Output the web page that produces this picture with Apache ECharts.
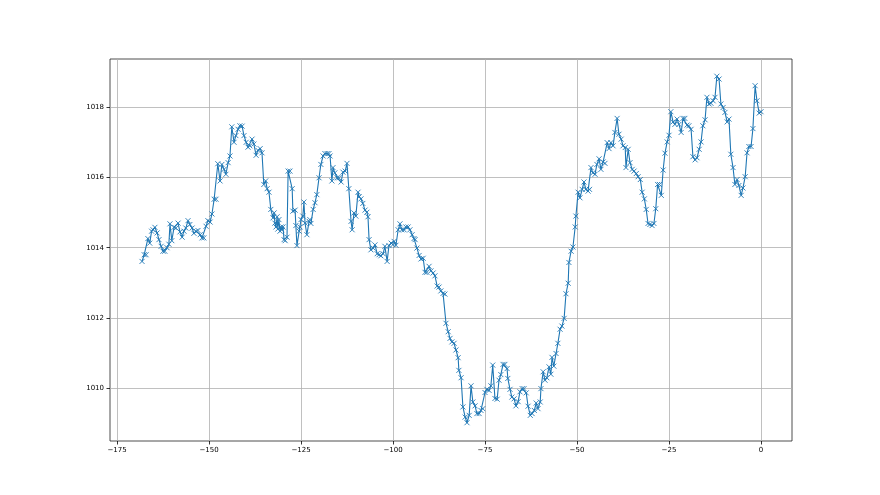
<!DOCTYPE html>
<html>
<head>
<meta charset="utf-8">
<script src="https://cdn.jsdelivr.net/npm/echarts@6/dist/echarts.min.js"></script>
<style>html,body{margin:0;padding:0;background:#fff}#c{width:880px;height:495px}</style>
</head>
<body>
<div id="c"></div>
<script>
const hours = [
-168.2,-167.6,-167.1,-166.6,-166.1,-165.6,-165.2,-164.7,-164.1,-163.6,-163.0,-162.5,-162.0,-161.4,-160.9,-160.6,-160.1,-159.5,-159.0,-158.4,
-157.9,-157.3,-156.8,-156.3,-155.7,-155.2,-154.6,-154.1,-153.5,-153.0,-152.4,-151.9,-151.4,-150.8,-150.3,-149.7,-149.2,-148.6,-148.1,-147.6,
-147.0,-146.5,-145.9,-145.4,-144.8,-144.3,-143.8,-143.2,-142.7,-142.1,-141.6,-141.0,-140.5,-139.9,-139.4,-138.9,-138.3,-137.8,-137.2,-136.7,
-136.1,-135.6,-135.1,-134.6,
-134.2,-133.7,-133.2,-132.6,-132.3,-132.1,-131.8,-131.5,-131.3,-131.0,-130.7,-130.4,-130.2,-129.9,-129.6,-129.3,-128.8,-128.5,-128.0,-127.4,
-127.2,-126.6,-126.4,-126.1,-125.5,-125.3,-125.0,-124.5,-124.2,-123.9,-123.4,-122.8,-122.6,-122.3,-121.7,-121.2,-120.7,-120.1,-119.6,-119.0,
-118.5,-117.9,-117.4,-117.1,-116.6,-116.3,-115.8,-115.2,-114.7,-114.1,-113.6,-113.0,-112.5,-112.0,-111.4,-111.1,-110.6,-110.1,-109.5,-109.2,
-108.7,-108.2,-107.6,-107.1,-106.8,-106.5,-106.0,-105.4,-104.9,-104.3,-103.8,-103.3,-102.7,-102.2,-101.6,-101.1,-100.5,
-100.0,-99.7,-99.2,-98.6,-98.1,-97.6,-97.0,-96.5,-95.9,-95.4,-94.8,-94.3,-94.0,-93.5,-92.9,-92.4,-91.8,-91.3,-90.8,-90.2,
-89.7,-89.1,-88.6,-88.0,-87.5,-87.0,-86.4,-85.9,-85.6,-85.0,-84.5,-84.0,-83.4,-82.9,-82.3,-82.1,-81.5,-81.0,-80.4,-79.9,
-79.3,-78.8,-78.3,-77.7,-77.2,-76.6,-76.1,-75.6,-75.0,-74.5,-73.9,-73.4,-72.9,-72.3,-71.7,-71.2,-70.7,-70.1,-69.6,-69.0,
-68.8,-68.2,-67.7,-67.1,-66.6,-66.0,-65.5,
-64.9,-64.4,-63.8,-63.3,-62.7,-62.2,-61.6,-61.1,-60.6,-60.0,-59.8,-59.2,-58.7,-58.2,-57.6,-57.1,-56.8,-56.3,-55.7,-55.2,
-54.6,-54.1,-53.5,-53.0,-52.4,-52.2,-51.6,-51.1,-50.5,-50.3,-49.7,-49.2,-48.6,-48.1,-47.6,-47.0,-46.6,-46.2,-45.7,-45.1,
-44.6,-44.0,-43.5,-42.9,-42.4,-41.8,-41.3,-40.8,-40.2,-39.7,-39.1,-38.6,-38.0,-37.5,-36.9,-36.7,-36.1,-35.6,-35.0,-34.5,
-33.9,-33.4,-32.8,-32.3,-31.7,-31.2,
-30.7,-30.2,-29.6,-29.1,-28.6,-28.1,-27.6,-27.1,-26.6,-26.1,-25.5,-25.0,-24.5,-23.9,-23.4,-22.8,-22.3,-21.7,-21.2,-20.7,
-20.1,-19.6,-19.0,-18.5,-17.9,-17.4,-16.8,-16.3,-15.8,-15.2,-14.7,-14.1,-13.6,-13.0,-12.5,-12.0,-11.4,-10.9,-10.3,-9.8,
-9.2,-8.7,-8.2,-7.6,-7.1,-6.5,-6.0,-5.4,-4.9,-4.3,-3.8,-3.3,-2.7,-2.2,-1.6,-1.1,-0.5,0.0
];
const pressure = [
1013.61,1013.80,1013.80,1014.26,1014.13,1014.47,1014.51,1014.58,1014.42,1014.23,1014.04,1013.90,1013.90,1014.00,1014.10,1014.68,1014.20,1014.58,1014.56,1014.70,
1014.45,1014.30,1014.47,1014.56,1014.77,1014.66,1014.56,1014.41,1014.47,1014.49,1014.37,1014.28,1014.28,1014.61,1014.77,1014.73,1014.96,1015.38,1015.38,1016.39,
1015.90,1016.37,1016.23,1016.09,1016.42,1016.61,1017.44,1017.00,1017.19,1017.37,1017.47,1017.46,1017.19,1017.00,1016.86,1016.90,1017.09,1016.95,1016.63,1016.77,
1016.82,1016.70,1015.80,1015.90,
1015.68,1015.58,1015.09,1014.85,1014.99,1014.70,1014.59,1014.88,1014.53,1014.80,1014.47,1014.59,1014.51,1014.59,1014.23,1014.20,1014.30,1016.18,1016.18,1015.68,
1015.04,1015.07,1014.63,1014.06,1014.47,1014.59,1014.80,1014.90,1015.30,1014.70,1014.37,1014.75,1014.80,1014.69,1015.09,1015.28,1015.51,1015.99,1016.37,1016.61,
1016.68,1016.68,1016.68,1016.61,1015.90,1016.28,1016.13,1015.99,1015.99,1015.87,1016.15,1016.18,1016.40,1015.68,1014.75,1014.51,1014.99,1014.90,1015.58,1015.45,
1015.39,1015.26,1015.07,1015.01,1014.88,1014.23,1013.94,1013.99,1014.08,1013.83,1013.80,1013.77,1013.83,1014.04,1013.61,1014.06,1014.13,
1014.09,1014.18,1014.07,1014.51,1014.68,1014.51,1014.51,1014.59,1014.59,1014.51,1014.37,1014.26,1014.23,1013.99,1013.78,1013.68,1013.70,1013.30,1013.30,1013.47,
1013.34,1013.28,1013.20,1012.91,1012.88,1012.77,1012.70,1012.68,1011.85,1011.61,1011.42,1011.32,1011.28,1011.09,1010.87,1010.51,1010.30,1009.47,1009.18,1009.02,
1009.23,1010.07,1009.61,1009.50,1009.28,1009.28,1009.37,1009.42,1009.88,1009.97,1009.94,1010.07,1010.66,1009.71,1009.69,1010.23,1010.39,1010.68,1010.68,1010.56,
1010.28,1009.97,1009.75,1009.70,1009.50,1009.62,1009.90,
1009.99,1009.99,1009.87,1009.49,1009.23,1009.28,1009.37,1009.58,1009.42,1009.61,1009.99,1010.47,1010.23,1010.30,1010.61,1010.40,1010.88,1010.63,1010.99,1011.28,
1011.68,1011.77,1011.99,1012.69,1012.99,1013.58,1013.90,1014.02,1014.59,1014.90,1015.58,1015.42,1015.66,1015.87,1015.66,1015.61,1015.66,1016.28,1016.13,1016.09,
1016.37,1016.53,1016.23,1016.44,1016.40,1016.99,1016.82,1016.99,1016.90,1017.28,1017.68,1017.23,1017.09,1016.90,1016.85,1016.28,1016.80,1016.42,1016.23,1016.18,
1016.11,1016.02,1015.94,1015.58,1015.39,1015.09,
1014.69,1014.66,1014.63,1014.69,1015.11,1015.80,1015.80,1015.49,1016.21,1016.69,1017.01,1017.20,1017.87,1017.58,1017.51,1017.66,1017.51,1017.28,1017.68,1017.68,
1017.49,1017.47,1017.37,1016.59,1016.50,1016.56,1016.80,1017.01,1017.47,1017.64,1018.28,1018.09,1018.11,1018.18,1018.28,1018.88,1018.80,1018.09,1017.99,1017.85,
1017.58,1017.66,1016.66,1016.28,1015.80,1015.94,1015.77,1015.49,1015.70,1016.02,1016.70,1016.88,1016.88,1017.39,1018.61,1018.18,1017.83,1017.87
];
const xTicks = [-175, -150, -125, -100, -75, -50, -25, 0];
const yTicks = [1010, 1012, 1014, 1016, 1018];

const data = hours.map((h, i) => [h, pressure[i]]);
const fmt = v => String(v).replace('-', '\u2212');
const font = 'DejaVu Sans';

const chart = echarts.init(document.getElementById('c'), null, {renderer: 'canvas'});
chart.setOption({
  animation: false,
  backgroundColor: '#fff',
  grid: {left: 110, right: 88, top: 59, bottom: 54, show: true, borderColor: '#222', borderWidth: 0.8, backgroundColor: 'transparent'},
  xAxis: {
    type: 'value', min: -176.9, max: 8.42,
    axisLine: {show: false, onZero: false},
    axisTick: {show: true, inside: false, length: 3.5, customValues: xTicks, lineStyle: {color: '#000', width: 0.8}},
    axisLabel: {customValues: xTicks, formatter: fmt, fontSize: 7, color: '#000', fontFamily: font, margin: 6},
    splitLine: {show: true, lineStyle: {color: '#b0b0b0', width: 0.8}}
  },
  yAxis: {
    type: 'value', min: 1008.5, max: 1019.37,
    axisLine: {show: false, onZero: false},
    axisTick: {show: true, inside: false, length: 3.5, customValues: yTicks, lineStyle: {color: '#000', width: 0.8}},
    axisLabel: {customValues: yTicks, formatter: fmt, fontSize: 7, color: '#000', fontFamily: font, margin: 6},
    splitLine: {show: true, lineStyle: {color: '#b0b0b0', width: 0.8}}
  },
  series: [{
    type: 'line',
    data: data,
    symbol: 'path://M0,0L10,10M10,0L0,10',
    symbolSize: 5,
    showSymbol: true,
    lineStyle: {color: '#1f77b4', width: 1.1},
    itemStyle: {color: '#1f77b4', borderColor: '#1f77b4', borderWidth: 0.9},
    emphasis: {disabled: true}
  }]
});
</script>
</body>
</html>
